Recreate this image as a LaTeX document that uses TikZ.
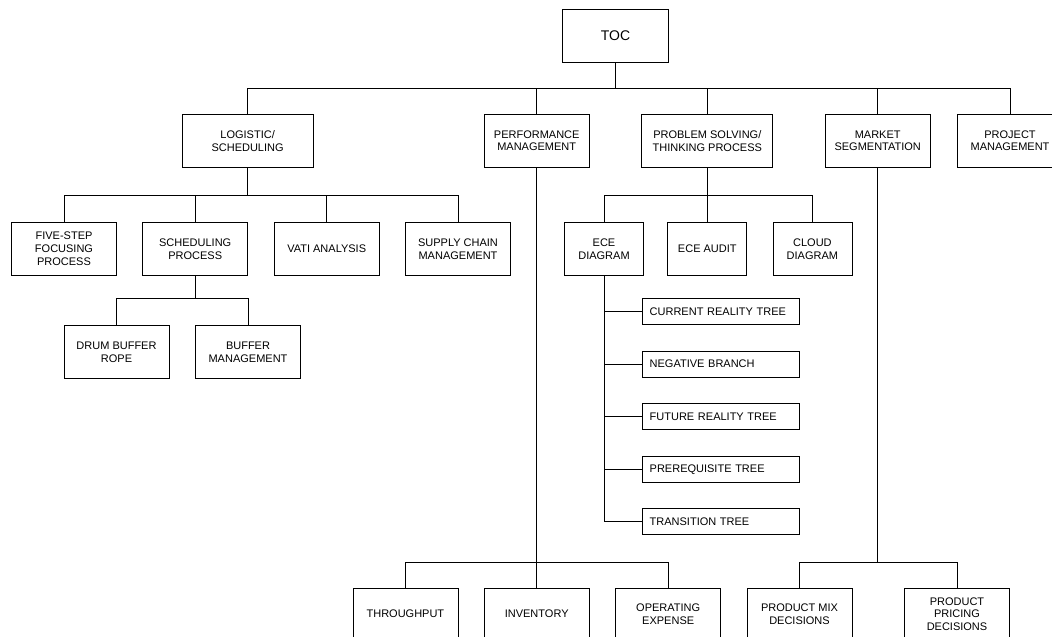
\documentclass[tikz,border=0pt]{standalone}
\usepackage{fontspec}
\setmainfont{Liberation Sans}
\usepackage{tikz}

\tikzset{
    box/.style={draw, line width=0.8pt, minimum width=105pt, minimum height=52.5pt,
        align=center, inner sep=2pt, font=\fontsize{11}{12.8}\selectfont},
    widebox/.style={box, minimum width=131pt},
    narrowbox/.style={box, minimum width=79pt},
    treebox/.style={draw, line width=0.8pt, anchor=west, minimum height=26pt,
        text width=142pt, inner xsep=7.6pt, align=left, font=\fontsize{11}{12.8}\selectfont},
    link/.style={line width=0.8pt}
}

\begin{document}
\begin{tikzpicture}[x=1pt, y=-1pt]
    \useasboundingbox (0,0) rectangle (1052,637);
    % Root
    \node[box, minimum width=105.6pt, font=\fontsize{14}{16}\selectfont] (toc) at (615.5,35.7) {TOC};
    % First level
    \node[widebox] (logistic) at (247.6,140.7) {LOGISTIC/\\SCHEDULING};
    \node[box] (performance) at (536.7,140.7) {PERFORMANCE\\MANAGEMENT};
    \node[widebox] (problem) at (707.3,140.7) {PROBLEM SOLVING/\\THINKING PROCESS};
    \node[box] (market) at (877.7,140.7) {MARKET\\SEGMENTATION};
    \node[box, minimum width=106pt] (project) at (1010,140.7) {PROJECT\\MANAGEMENT};
    \coordinate (topbus) at (0,88.3);
    \draw[link] (toc.south) -- (toc.south |- topbus);
    \draw[link] (logistic.north) |- (project.north |- topbus) -- (project.north);
    \draw[link] (performance.north) -- (performance.north |- topbus);
    \draw[link] (problem.north) -- (problem.north |- topbus);
    \draw[link] (market.north) -- (market.north |- topbus);

    % Logistic / scheduling branch
    \node[box] (fivestep) at (64,249) {FIVE-STEP\\FOCUSING\\PROCESS};
    \node[box] (scheduling) at (195.2,249) {SCHEDULING\\PROCESS};
    \node[box] (vati) at (326.7,249) {VATI ANALYSIS};
    \node[box] (supply) at (458,249) {SUPPLY CHAIN\\MANAGEMENT};
    \coordinate (logbus) at (0,195.7);
    \draw[link] (logistic.south) -- (logistic.south |- logbus);
    \draw[link] (fivestep.north) |- (supply.north |- logbus) -- (supply.north);
    \draw[link] (scheduling.north) -- (scheduling.north |- logbus);
    \draw[link] (vati.north) -- (vati.north |- logbus);

    \node[box] (drum) at (116.5,352) {DRUM BUFFER\\ROPE};
    \node[box] (buffer) at (248,352) {BUFFER\\MANAGEMENT};
    \coordinate (schedbus) at (0,298.7);
    \draw[link] (scheduling.south) -- (scheduling.south |- schedbus);
    \draw[link] (drum.north) |- (buffer.north |- schedbus) -- (buffer.north);

    % Problem solving branch
    \node[narrowbox] (ece) at (604,249) {ECE\\DIAGRAM};
    \node[narrowbox] (eceaudit) at (707.3,249) {ECE AUDIT};
    \node[narrowbox] (cloud) at (812.4,249) {CLOUD\\DIAGRAM};
    \draw[link] (problem.south) -- (problem.south |- logbus);
    \draw[link] (ece.north) |- (cloud.north |- logbus) -- (cloud.north);
    \draw[link] (eceaudit.north) -- (eceaudit.north |- logbus);

    \node[treebox] (crt) at (641.7,311.7) {CURRENT REALITY TREE};
    \node[treebox] (negative) at (641.7,364.2) {NEGATIVE BRANCH};
    \node[treebox] (frt) at (641.7,416.8) {FUTURE REALITY TREE};
    \node[treebox] (prt) at (641.7,469.3) {PREREQUISITE TREE};
    \node[treebox] (trt) at (641.7,521.8) {TRANSITION TREE};
    \draw[link] (ece.south) |- (trt.west);
    \draw[link] (ece.south |- crt.west) -- (crt.west);
    \draw[link] (ece.south |- negative.west) -- (negative.west);
    \draw[link] (ece.south |- frt.west) -- (frt.west);
    \draw[link] (ece.south |- prt.west) -- (prt.west);

    % Performance and market branches
    \node[box] (throughput) at (405.4,614.2) {THROUGHPUT};
    \node[box] (inventory) at (536.7,614.2) {INVENTORY};
    \node[box] (expense) at (668.2,614.2) {OPERATING\\EXPENSE};
    \node[box] (mix) at (799.5,614.2) {PRODUCT MIX\\DECISIONS};
    \node[box] (pricing) at (957,614.2) {PRODUCT\\PRICING\\DECISIONS};
    \coordinate (lowbus) at (0,562);
    \draw[link] (performance.south) -- (inventory.north);
    \draw[link] (throughput.north) |- (expense.north |- lowbus) -- (expense.north);
    \draw[link] (market.south) -- (market.south |- lowbus);
    \draw[link] (mix.north) |- (pricing.north |- lowbus) -- (pricing.north);
\end{tikzpicture}
\end{document}
